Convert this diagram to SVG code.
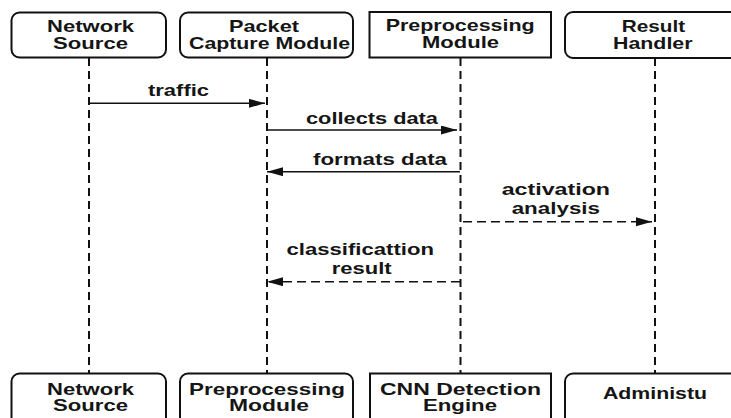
<svg xmlns="http://www.w3.org/2000/svg" width="731" height="418" viewBox="0 0 731 418">
<style>
.box{fill:#fff;stroke:#111;stroke-width:2}
.t{font-family:"Liberation Sans",Arial,sans-serif;font-size:16.5px;font-weight:bold;fill:#151515}
.m{font-family:"Liberation Sans",Arial,sans-serif;font-size:16.5px;font-weight:bold;fill:#151515}
.life{stroke:#111;stroke-width:2;stroke-dasharray:8 5;fill:none}
.msg{stroke:#111;stroke-width:1.6;fill:none}
.dash{stroke-dasharray:9 5}
</style>
<defs>
<marker id="ah" markerUnits="userSpaceOnUse" markerWidth="17" markerHeight="10" refX="16" refY="4.5" orient="auto">
<path d="M0,0 L16,4.5 L0,9 z" fill="#111"/>
</marker>
</defs>
<rect width="731" height="418" fill="#fff"/>
<g id="lifelines">
<line class="life" x1="89" y1="58" x2="89" y2="373"/>
<line class="life" x1="267" y1="58" x2="267" y2="373"/>
<line class="life" x1="460.5" y1="58" x2="460.5" y2="373"/>
<line class="life" x1="655" y1="58" x2="655" y2="373"/>
</g>
<g id="top-network-source">
<rect class="box" x="11.5" y="12.5" width="154.5" height="45" rx="8"/>
<text class="t" x="47" y="32" textLength="87" lengthAdjust="spacingAndGlyphs">Network</text>
<text class="t" x="53" y="48.5" textLength="75" lengthAdjust="spacingAndGlyphs">Source</text>
</g>
<g id="top-packet-capture">
<rect class="box" x="180" y="12.5" width="173" height="45" rx="8"/>
<text class="t" x="229" y="32" textLength="70" lengthAdjust="spacingAndGlyphs">Packet</text>
<text class="t" x="189" y="48.5" textLength="161" lengthAdjust="spacingAndGlyphs">Capture Module</text>
</g>
<g id="top-preprocessing">
<rect class="box" x="369.5" y="12" width="181.5" height="45.5"/>
<text class="t" x="385.7" y="31" textLength="149" lengthAdjust="spacingAndGlyphs">Preprocessing</text>
<text class="t" x="422" y="48" textLength="77" lengthAdjust="spacingAndGlyphs">Module</text>
</g>
<g id="top-result-handler">
<rect class="box" x="565" y="12" width="180" height="46" rx="8"/>
<text class="t" x="621.7" y="32" textLength="63.5" lengthAdjust="spacingAndGlyphs">Result</text>
<text class="t" x="613" y="48.5" textLength="79.5" lengthAdjust="spacingAndGlyphs">Handler</text>
</g>
<g id="bottom-network-source">
<rect class="box" x="11.5" y="373.5" width="154.5" height="60" rx="8"/>
<text class="t" x="47" y="394.5" textLength="87" lengthAdjust="spacingAndGlyphs">Network</text>
<text class="t" x="53" y="411" textLength="75" lengthAdjust="spacingAndGlyphs">Source</text>
</g>
<g id="bottom-preprocessing">
<rect class="box" x="180" y="373.5" width="173" height="60" rx="8"/>
<text class="t" x="189" y="394.5" textLength="156" lengthAdjust="spacingAndGlyphs">Preprocessing</text>
<text class="t" x="229" y="411" textLength="80" lengthAdjust="spacingAndGlyphs">Module</text>
</g>
<g id="bottom-cnn-engine">
<rect class="box" x="370" y="373.5" width="181" height="60"/>
<text class="t" x="380" y="394.5" textLength="161" lengthAdjust="spacingAndGlyphs">CNN Detection</text>
<text class="t" x="423" y="411" textLength="74" lengthAdjust="spacingAndGlyphs">Engine</text>
</g>
<g id="bottom-administrator">
<rect class="box" x="565" y="373.5" width="180" height="60" rx="8"/>
<text class="t" x="603" y="399" textLength="104" lengthAdjust="spacingAndGlyphs">Administu</text>
</g>
<g id="connectors">
<line class="msg" x1="90" y1="103.3" x2="265" y2="103.3" marker-end="url(#ah)"/>
<text class="m" x="148" y="96" textLength="61" lengthAdjust="spacingAndGlyphs">traffic</text>
<line class="msg" x1="267" y1="130" x2="457" y2="130" marker-end="url(#ah)"/>
<text class="m" x="306" y="123.5" textLength="132" lengthAdjust="spacingAndGlyphs">collects data</text>
<line class="msg" x1="460" y1="171.7" x2="267" y2="171.7" marker-end="url(#ah)"/>
<text class="m" x="313" y="165" textLength="134" lengthAdjust="spacingAndGlyphs">formats data</text>
<line class="msg dash" x1="463" y1="221.7" x2="652" y2="221.7" marker-end="url(#ah)"/>
<text class="m" x="501.7" y="195" textLength="108.3" lengthAdjust="spacingAndGlyphs">activation</text>
<text class="m" x="511.7" y="213.5" textLength="88.3" lengthAdjust="spacingAndGlyphs">analysis</text>
<line class="msg dash" x1="460" y1="281.7" x2="267" y2="281.7" marker-end="url(#ah)"/>
<text class="m" x="286.5" y="255" textLength="147.5" lengthAdjust="spacingAndGlyphs">classificattion</text>
<text class="m" x="331.7" y="273.5" textLength="60" lengthAdjust="spacingAndGlyphs">result</text>
</g>
</svg>
